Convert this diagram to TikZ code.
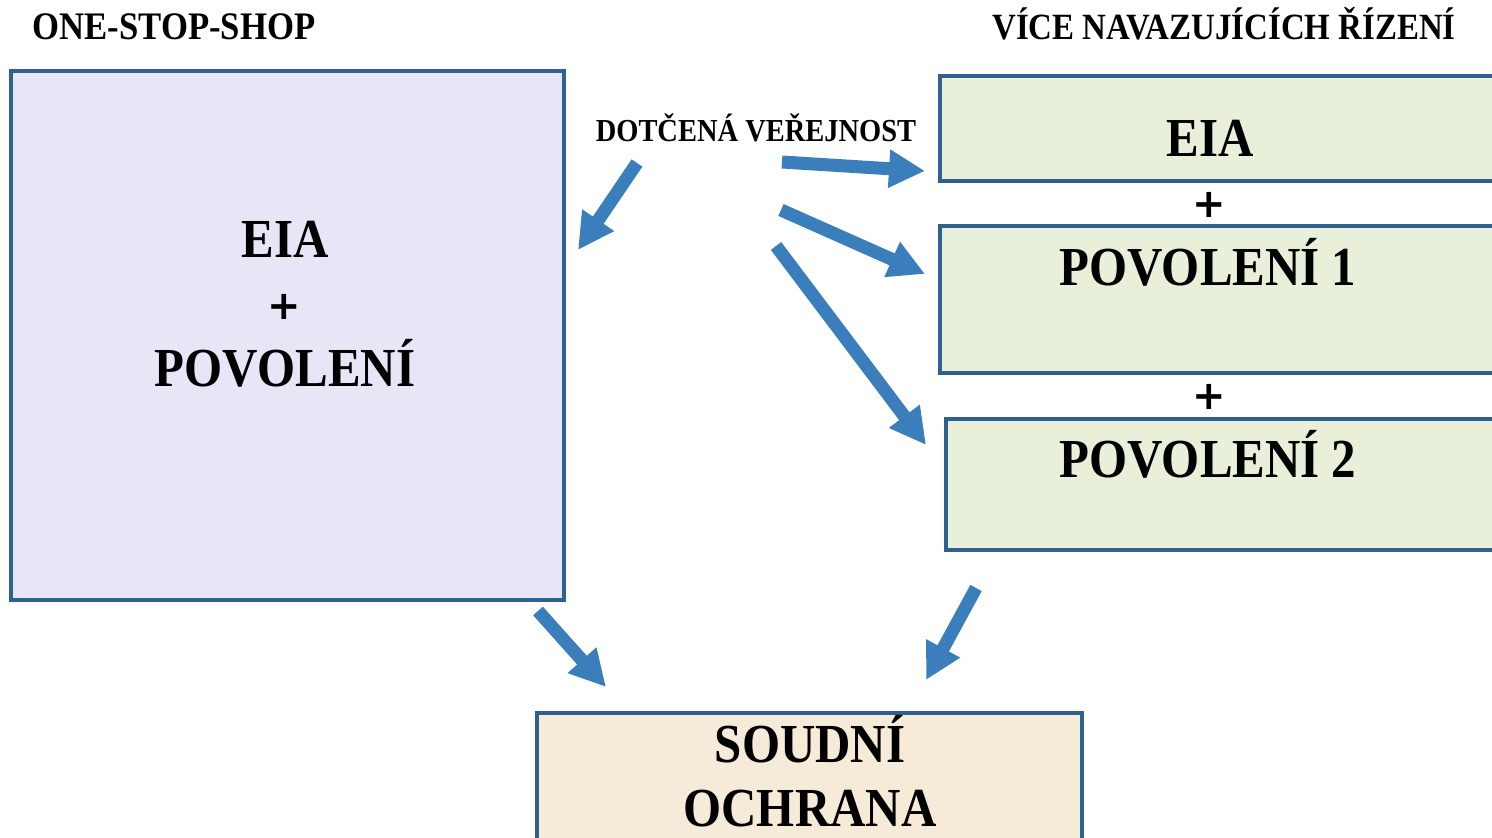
\documentclass[tikz,border=0pt]{standalone}
\usepackage{fontspec}
\setmainfont{Liberation Serif}[FakeStretch=0.89]
\newfontfamily\plusfont{DejaVu Sans}
\usetikzlibrary{arrows.meta}
\definecolor{boxline}{HTML}{2E6190}
\definecolor{arrowblue}{HTML}{3A7FBC}
\definecolor{ossfill}{HTML}{E7E5F6}
\definecolor{navfill}{HTML}{E8F0DA}
\definecolor{courtfill}{HTML}{F6EBD8}
\tikzset{
  box/.style={draw=boxline, line width=2pt, rectangle, inner sep=0pt},
  bigtext/.style={font=\bfseries\fontsize{27.5}{32}\selectfont, anchor=base},
  headtext/.style={font=\bfseries\fontsize{18.5}{22}\selectfont, anchor=base},
  plustext/.style={font=\plusfont\bfseries\fontsize{20}{24}\selectfont},
  bluearrow/.style={arrowblue, line width=6.5pt, -{Triangle[length=18pt, width=18pt]}}
}
\begin{document}
\begin{tikzpicture}[x=0.5pt, y=-0.5pt]
        \useasboundingbox (0,0) rectangle (1492,838);

            % boxes
            \node[box, fill=ossfill, minimum width=276.5pt, minimum height=264.5pt] (oss) at (287.5,335.5) {};
            \node[box, fill=navfill, minimum width=278pt, minimum height=52.5pt] (eiaR) at (1218,128.5) {};
            \node[box, fill=navfill, minimum width=278pt, minimum height=73.5pt] (pov1) at (1218,299.5) {};
            \node[box, fill=navfill, minimum width=275pt, minimum height=65.5pt] (pov2) at (1221,484.5) {};
            \node[box, fill=courtfill, minimum width=272.5pt, minimum height=70pt] (court) at (809.5,783) {};

            % headings
            \node[headtext, font=\bfseries\fontsize{19.5}{23}\selectfont] (hOss) at (174,40) {ONE-STOP-SHOP};
            \node[headtext] (hNav) at (1224,40) {VÍCE NAVAZUJÍCÍCH ŘÍZENÍ};
            \node[headtext, font=\bfseries\fontsize{16}{20}\selectfont] (pub) at (756,142) {DOTČENÁ VEŘEJNOST};

            % texts in boxes
            \node[bigtext] (tEiaL) at (285,258) {EIA};
            \node[plustext] (tPlusL) at (284,307) {+};
            \node[bigtext] (tPovL) at (285,387) {POVOLENÍ};
            \node[bigtext] (tEiaR) at (1210,157) {EIA};
            \node[plustext] (tPlus1) at (1209,205) {+};
            \node[bigtext] (tPov1) at (1208,286) {POVOLENÍ 1};
            \node[plustext] (tPlus2) at (1209,397) {+};
            \node[bigtext] (tPov2) at (1208,478) {POVOLENÍ 2};
            \node[bigtext] (tSoud) at (810,762) {SOUDNÍ};
            \node[bigtext] (tOchr) at (810,826) {OCHRANA};

            % arrow ends
            \coordinate (A1) at (637,163);  \coordinate (B1) at (578,250);
            \coordinate (A2) at (782,162);  \coordinate (B2) at (925,171);
            \coordinate (A3) at (781,210);  \coordinate (B3) at (925,274);
            \coordinate (A4) at (776,246);  \coordinate (B4) at (926,445);
            \coordinate (A5) at (538,611);  \coordinate (B5) at (606,687);
            \coordinate (A6) at (976,588);  \coordinate (B6) at (926,680);

      \draw [bluearrow] (A1) -- (B1);
      \draw [bluearrow] (A2) -- (B2);
      \draw [bluearrow] (A3) -- (B3);
      \draw [bluearrow] (A4) -- (B4);
      \draw [bluearrow] (A5) -- (B5);
      \draw [bluearrow] (A6) -- (B6);

      \end{tikzpicture}
\end{document}
